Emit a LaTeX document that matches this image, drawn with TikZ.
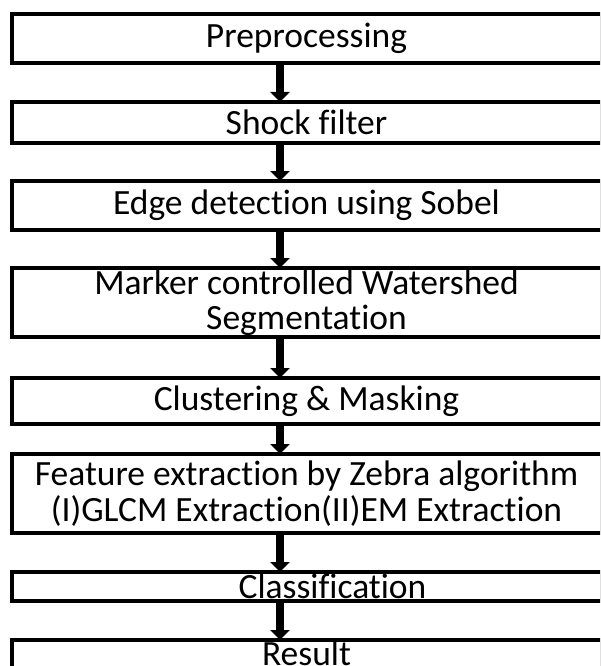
\documentclass[tikz,border=0pt]{standalone}
\usepackage{fontspec}
\setmainfont[RawFeature={-liga;-clig;-dlig}]{Carlito}
\usetikzlibrary{arrows.meta}
\begin{document}
\begin{tikzpicture}[x=1pt,y=-1pt,
  stagebox/.style={draw=black, line width=4pt, fill=white, inner sep=0pt, outer sep=0pt,
    minimum width=590pt, align=center,
    font=\fontsize{35.5}{35.5}\selectfont},
  flow/.style={line width=8pt, -{Triangle[width=19pt,length=10pt]}}]
  \useasboundingbox (0,0) rectangle (600,666);
  \clip (0,0) rectangle (600,666);
  \coordinate (ax) at (280,0);
  % processing stages, top to bottom
  \node[stagebox, minimum height=49pt] (b1) at (306.5,38.5) {Preprocessing};
  \node[stagebox, minimum height=41pt] (b2) at (306.5,122.5) {Shock filter};
  \node[stagebox, minimum height=49pt] (b3) at (306.5,205.5) {Edge detection using Sobel};
  \node[stagebox, minimum height=69pt] (b4) at (306.5,302.5) {Marker controlled Watershed\\Segmentation};
  \node[stagebox, minimum height=46pt] (b5) at (306.5,401) {Clustering \& Masking};
  \node[stagebox, minimum height=79pt] (b6) at (306.5,493.5) {Feature extraction by Zebra algorithm\\(I)GLCM Extraction(II)EM Extraction};
  \node[stagebox, minimum height=29pt] (b7) at (306.5,586.5) {\hspace*{52pt}Classification};
  % last stage runs past the lower edge
  \node[stagebox, anchor=north, text height=25pt, text depth=35pt] (b8) at (306.5,640) {Result};
  % connectors
  \foreach \a/\b in {b1/b2,b2/b3,b3/b4,b4/b5,b5/b6,b6/b7,b7/b8}
    \draw[flow] (\a.south -| ax) -- (\b.north -| ax);
\end{tikzpicture}
\end{document}
